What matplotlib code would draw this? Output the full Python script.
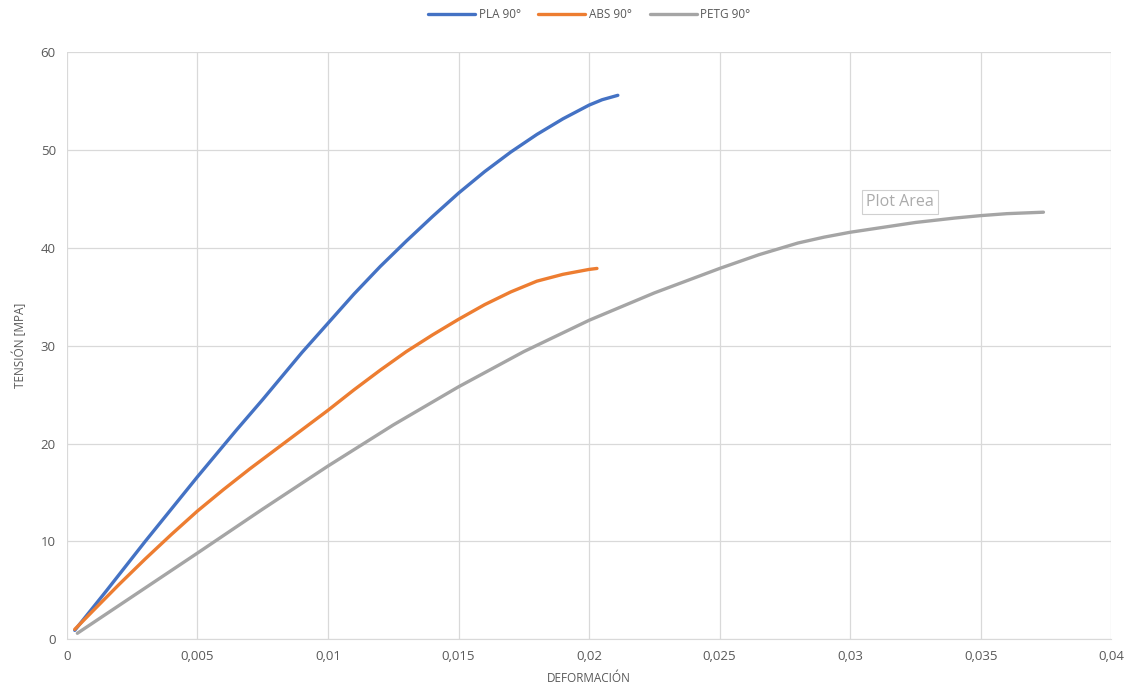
import matplotlib.pyplot as plt
from matplotlib.ticker import FuncFormatter

plt.rcParams['font.family'] = ['Open Sans', 'DejaVu Sans']

# data
pla_x = [0.0003, 0.0015, 0.003, 0.004, 0.005, 0.0065, 0.0075, 0.009, 0.010,
         0.011, 0.012, 0.013, 0.014, 0.015, 0.016, 0.017, 0.018, 0.019,
         0.020, 0.0205, 0.0211]
pla_y = [0.9, 4.9, 10.0, 13.3, 16.6, 21.4, 24.5, 29.3, 32.3,
         35.3, 38.1, 40.7, 43.2, 45.6, 47.8, 49.8, 51.6, 53.2,
         54.6, 55.15, 55.6]

abs_x = [0.0003, 0.001, 0.002, 0.003, 0.004, 0.005, 0.006, 0.007, 0.008,
         0.009, 0.010, 0.011, 0.012, 0.013, 0.014, 0.015, 0.016, 0.017,
         0.018, 0.019, 0.020, 0.0203]
abs_y = [1.0, 2.9, 5.6, 8.2, 10.7, 13.1, 15.3, 17.4, 19.4,
         21.4, 23.4, 25.5, 27.5, 29.4, 31.1, 32.7, 34.2, 35.5,
         36.6, 37.3, 37.8, 37.9]

petg_x = [0.0004, 0.005, 0.0075, 0.010, 0.0125, 0.015, 0.0175, 0.020, 0.0225,
          0.025, 0.0265, 0.028, 0.029, 0.030, 0.031, 0.0325, 0.034, 0.035,
          0.036, 0.0374]
petg_y = [0.6, 8.8, 13.3, 17.7, 21.9, 25.8, 29.4, 32.6, 35.4,
          37.9, 39.3, 40.5, 41.1, 41.6, 42.0, 42.6, 43.05, 43.3,
          43.5, 43.65]

series = [("PLA 90°", pla_x, pla_y, "#4472C4"),
          ("ABS 90°", abs_x, abs_y, "#ED7D31"),
          ("PETG 90°", petg_x, petg_y, "#A5A5A5")]

fig = plt.figure(figsize=(11.34, 6.97), dpi=100)
ax = fig.add_axes([0.059, 0.083, 0.921, 0.842])

for label, x, y, c in series:
    ax.plot(x, y, color=c, lw=2.4, label=label, solid_capstyle='round',
            solid_joinstyle='round')

ax.set_xlim(0, 0.04)
ax.set_ylim(0, 60)
ax.set_xticks([i * 0.005 for i in range(9)])
ax.set_yticks(range(0, 61, 10))


def comma(v, pos):
    if abs(v) < 1e-12:
        return "0"
    return f"{v:g}".replace(".", ",")


ax.xaxis.set_major_formatter(FuncFormatter(comma))
ax.grid(True, color="#D9D9D9", lw=0.9)
ax.set_axisbelow(True)
for s in ["top", "right", "left"]:
    ax.spines[s].set_visible(False)
ax.spines["bottom"].set_color("#D9D9D9")
ax.tick_params(length=0, colors="#595959", labelsize=9.5, pad=8)

ax.set_xlabel("DEFORMACIÓN", color="#595959", fontsize=8.5, labelpad=6)
ax.set_ylabel("TENSIÓN [MPA]", color="#595959", fontsize=8.5, labelpad=10)

ax.legend(loc="lower center", bbox_to_anchor=(0.5, 1.035), ncol=3, frameon=False,
          fontsize=8.5, labelcolor="#595959", handlelength=4, columnspacing=1.5,
          handletextpad=0.3)

ax.text(0.0319, 44.7, "Plot Area", color="#ABABAB", fontsize=11.5, ha="center", va="center",
        bbox=dict(boxstyle="square,pad=0.25", fc="white", ec="#D0D0D0", lw=0.8))

fig.savefig("out.png", dpi=100)
